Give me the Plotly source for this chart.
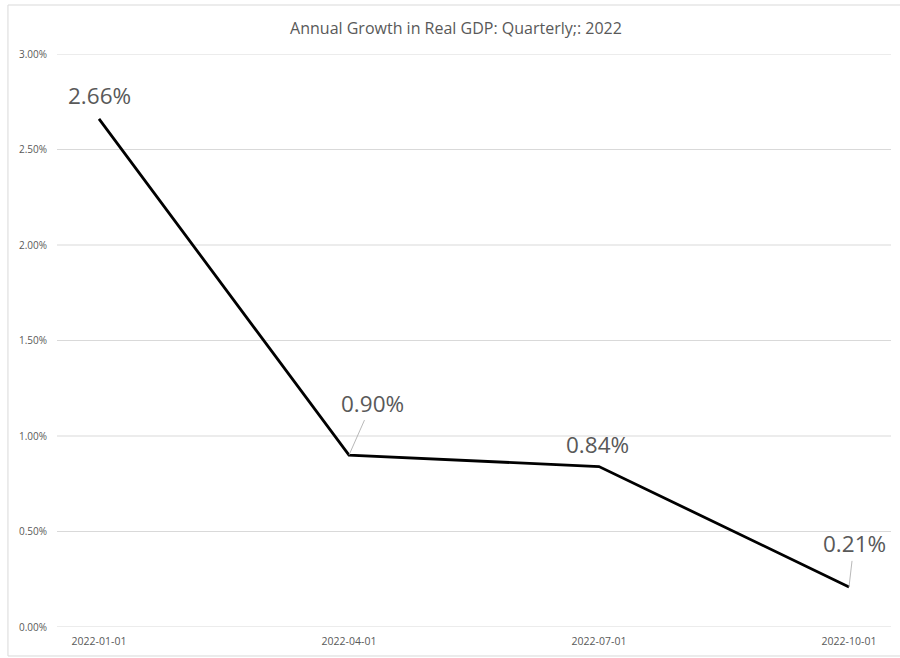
import plotly.graph_objects as go

# Quarterly real GDP growth, 2022 (percent)
quarters = ["2022-01-01", "2022-04-01", "2022-07-01", "2022-10-01"]
growth = [2.66, 0.90, 0.84, 0.21]
y_ticks = [0.0, 0.5, 1.0, 1.5, 2.0, 2.5, 3.0]

FONT = "Open Sans"
TEXT = "#595959"
GRID = "#d9d9d9"

xpos = list(range(len(quarters)))

fig = go.Figure()

# Horizontal gridlines at every y tick, including both ends of the range
for t in y_ticks:
    fig.add_shape(
        type="line", xref="paper", yref="y", x0=0, x1=1, y0=t, y1=t,
        line=dict(color=GRID, width=1), layer="below",
    )

fig.add_trace(go.Scatter(
    x=xpos, y=growth, mode="lines",
    line=dict(color="black", width=2.8),
    hoverinfo="skip", showlegend=False,
))

# Value labels: offsets (px) from the point; leader lines where needed
label_style = [
    dict(ax=0, ay=-23, arrow=False),
    dict(ax=23, ay=-52, arrow=True),
    dict(ax=-2, ay=-22, arrow=False),
    dict(ax=5, ay=-43, arrow=True),
]
for x, v, st in zip(xpos, growth, label_style):
    if st["arrow"]:
        fig.add_annotation(
            x=x, y=v, xref="x", yref="y", text=f"{v:.2f}%",
            showarrow=True, arrowhead=0, arrowwidth=0.8, arrowcolor="#a6a6a6",
            ax=st["ax"], ay=st["ay"], standoff=0, startstandoff=0,
            font=dict(family=FONT, size=22.5, color=TEXT),
        )
    else:
        fig.add_annotation(
            x=x, y=v, xref="x", yref="y", text=f"{v:.2f}%",
            showarrow=False, xshift=st["ax"], yshift=-st["ay"],
            font=dict(family=FONT, size=22.5, color=TEXT),
        )

# Chart area outline
fig.add_shape(
    type="rect", xref="paper", yref="paper",
    x0=-0.0588, x1=1.03, y0=-0.0506, y1=1.0855,
    line=dict(color=GRID, width=1), fillcolor="rgba(0,0,0,0)", layer="below",
)

fig.update_layout(
    width=900, height=658,
    margin=dict(l=57, r=9, t=54, b=31),
    paper_bgcolor="white", plot_bgcolor="white",
    title=dict(
        text="Annual Growth in Real GDP: Quarterly;: 2022",
        x=456 / 900, xanchor="center", y=1 - 28 / 658, yanchor="middle",
        font=dict(family=FONT, size=16, color=TEXT),
    ),
    xaxis=dict(
        tickmode="array", tickvals=xpos, ticktext=quarters,
        range=[-0.168, len(quarters) - 1 + 0.168],
        showgrid=False, zeroline=False, showline=False, ticks="",
        tickfont=dict(family=FONT, size=10.5, color=TEXT),
        ticklabelstandoff=6,
    ),
    yaxis=dict(
        range=[0, 3.0], tickmode="array", tickvals=y_ticks,
        ticktext=[f"{t:.2f}%" for t in y_ticks],
        showgrid=False, zeroline=False, showline=False, ticks="",
        tickfont=dict(family=FONT, size=10, color=TEXT),
        ticklabelstandoff=9,
    ),
)

fig.write_html("out.html")
